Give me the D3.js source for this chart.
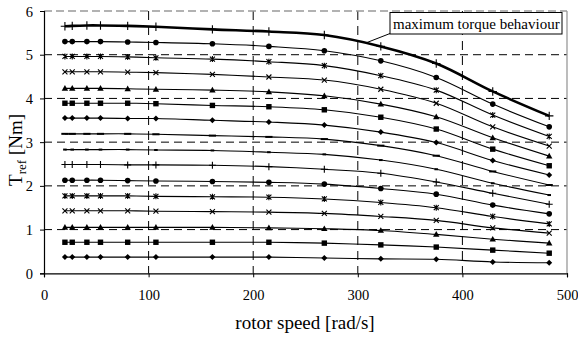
<!DOCTYPE html>
<html>
<head>
<meta charset="utf-8">
<script src="https://cdn.jsdelivr.net/npm/d3@7/dist/d3.min.js"></script>
<style>
  html, body { margin: 0; padding: 0; background: #fff; }
  svg { display: block; }
  text { font-family: "Liberation Serif", "Times New Roman", serif; fill: #000; }
</style>
</head>
<body>
<svg id="chart" width="578" height="338"></svg>
<script>
// ---- data ----
const speeds = [20, 27, 41, 54, 80, 107, 161, 215, 268, 322, 375, 429, 483];
const xTicks = [0, 100, 200, 300, 400, 500];
const yTicks = [0, 1, 2, 3, 4, 5, 6];
const markerTypes = ["diamond", "square", "triangle", "x", "star", "circle", "plus", "shortdash", "longdash",
                     "diamond", "square", "triangle", "x", "star", "circle", "plus"];
const s01 = [0.37,0.37,0.37,0.37,0.37,0.37,0.37,0.37,0.35,0.33,0.32,0.26,0.24];
const s02 = [0.71,0.71,0.71,0.71,0.71,0.71,0.71,0.71,0.69,0.65,0.60,0.53,0.46];
const s03 = [1.05,1.05,1.05,1.05,1.05,1.05,1.05,1.04,1.02,0.98,0.89,0.78,0.69];
const s04 = [1.43,1.43,1.43,1.43,1.43,1.42,1.41,1.40,1.37,1.30,1.21,1.04,0.92];
const s05 = [1.77,1.77,1.77,1.77,1.77,1.76,1.75,1.74,1.70,1.62,1.50,1.30,1.13];
const s06 = [2.13,2.13,2.13,2.13,2.12,2.11,2.10,2.08,2.04,1.94,1.81,1.56,1.36];
const s07 = [2.49,2.49,2.49,2.49,2.48,2.48,2.47,2.44,2.38,2.29,2.09,1.83,1.58];
const s08 = [2.83,2.83,2.83,2.83,2.83,2.82,2.81,2.77,2.72,2.59,2.38,2.06,1.79];
const s09 = [3.19,3.19,3.19,3.19,3.19,3.18,3.15,3.12,3.07,2.92,2.69,2.33,2.02];
const s10 = [3.55,3.55,3.55,3.55,3.54,3.54,3.50,3.46,3.39,3.23,2.99,2.58,2.25];
const s11 = [3.89,3.89,3.89,3.89,3.89,3.88,3.84,3.81,3.74,3.57,3.30,2.84,2.46];
const s12 = [4.23,4.23,4.23,4.23,4.22,4.21,4.19,4.15,4.06,3.87,3.58,3.10,2.68];
const s13 = [4.61,4.61,4.61,4.61,4.60,4.59,4.55,4.49,4.42,4.21,3.89,3.35,2.91];
const s14 = [4.96,4.96,4.96,4.96,4.95,4.93,4.90,4.84,4.75,4.52,4.19,3.62,3.13];
const s15 = [5.30,5.30,5.30,5.30,5.29,5.28,5.25,5.19,5.09,4.86,4.48,3.87,3.35];
const s16 = [5.65,5.66,5.67,5.67,5.66,5.64,5.58,5.53,5.45,5.19,4.80,4.16,3.60];
const seriesValues = [s01,s02,s03,s04,s05,s06,s07,s08,s09,s10,s11,s12,s13,s14,s15,s16];
const annotationText = "maximum torque behaviour";
const xTitle = "rotor speed [rad/s]";

// ---- layout ----
const svg = d3.select("#chart");
const L = 44, R = 567, T = 11, B = 273.3;
const x = d3.scaleLinear().domain([0, 500]).range([L, R]);
const y = d3.scaleLinear().domain([0, 6]).range([B, T]);

// gridlines
const grid = svg.append("g");
grid.selectAll("line.h").data(yTicks.filter(d => d > 0 && d < 6)).join("line")
  .attr("x1", L).attr("x2", R).attr("y1", d => y(d)).attr("y2", d => y(d))
  .attr("stroke", "#000").attr("stroke-width", 1).attr("stroke-dasharray", "8,5");
grid.selectAll("line.v").data(xTicks.filter(d => d > 0 && d < 500)).join("line")
  .attr("x1", d => x(d)).attr("x2", d => x(d)).attr("y1", T).attr("y2", B)
  .attr("stroke", "#000").attr("stroke-width", 1).attr("stroke-dasharray", "9,6");
// plot-area border (top dashed grey, right solid grey)
grid.append("line").attr("x1", L).attr("x2", R).attr("y1", y(6)).attr("y2", y(6))
  .attr("stroke", "#999").attr("stroke-width", 1.3).attr("stroke-dasharray", "8,4");
grid.append("line").attr("x1", R).attr("x2", R).attr("y1", T).attr("y2", B)
  .attr("stroke", "#999").attr("stroke-width", 1.3);

// lines
const line = d3.line().x(d => x(d[0])).y(d => y(d[1])).curve(d3.curveCatmullRom.alpha(0.5));
const series = seriesValues.map((vals, i) => ({ pts: speeds.map((s, j) => [s, vals[j]]), marker: markerTypes[i], thick: i === 15 }));
svg.append("g").selectAll("path").data(series).join("path")
  .attr("d", d => line(d.pts)).attr("fill", "none").attr("stroke", "#000")
  .attr("stroke-width", d => d.thick ? 2.6 : 1.1);

// markers
function marker(g, type, cx, cy, big) {
  const k = big ? 1.2 : 1;
  switch (type) {
    case "diamond": g.append("path").attr("d", `M${cx},${cy-3*k}L${cx+3*k},${cy}L${cx},${cy+3*k}L${cx-3*k},${cy}Z`).attr("fill", "#000"); break;
    case "square": g.append("rect").attr("x", cx-2.7).attr("y", cy-2.7).attr("width", 5.4).attr("height", 5.4).attr("fill", "#000"); break;
    case "triangle": g.append("path").attr("d", `M${cx},${cy-3.3}L${cx+3.2},${cy+2.4}L${cx-3.2},${cy+2.4}Z`).attr("fill", "#000"); break;
    case "x": g.append("path").attr("d", `M${cx-2.5},${cy-2.5}L${cx+2.5},${cy+2.5}M${cx+2.5},${cy-2.5}L${cx-2.5},${cy+2.5}`).attr("stroke", "#000").attr("stroke-width", 1.1); break;
    case "star": g.append("path").attr("d", `M${cx-2.5},${cy-2.5}L${cx+2.5},${cy+2.5}M${cx+2.5},${cy-2.5}L${cx-2.5},${cy+2.5}M${cx},${cy-3}L${cx},${cy+3}`).attr("stroke", "#000").attr("stroke-width", 1.1); break;
    case "circle": g.append("circle").attr("cx", cx).attr("cy", cy).attr("r", 2.8).attr("fill", "#000"); break;
    case "plus": g.append("path").attr("d", `M${cx-3.5*k},${cy}L${cx+3.5*k},${cy}M${cx},${cy-3.5*k}L${cx},${cy+3.5*k}`).attr("stroke", "#000").attr("stroke-width", 1.1); break;
    case "shortdash": g.append("path").attr("d", `M${cx-1.8},${cy}L${cx+1.8},${cy}`).attr("stroke", "#000").attr("stroke-width", 2); break;
    case "longdash": g.append("path").attr("d", `M${cx-3.6},${cy}L${cx+3.6},${cy}`).attr("stroke", "#000").attr("stroke-width", 2); break;
  }
}
const mg = svg.append("g");
series.forEach(s => s.pts.forEach(p => marker(mg, s.marker, x(p[0]), y(p[1]), s.thick)));

// axes
const xAxis = svg.append("g").attr("transform", `translate(0,${B})`)
  .call(d3.axisBottom(x).tickValues(xTicks).tickSize(4).tickFormat(d3.format("d")));
const yAxis = svg.append("g").attr("transform", `translate(${L},0)`)
  .call(d3.axisLeft(y).tickValues(yTicks).tickSize(4).tickFormat(d3.format("d")));
[xAxis, yAxis].forEach(a => {
  a.select(".domain").attr("stroke", "#000").attr("stroke-width", 1.2);
  a.selectAll(".tick line").attr("stroke", "#000").attr("stroke-width", 1);
  a.selectAll(".tick text").attr("font-family", "Liberation Serif, serif").attr("font-size", 14.5).attr("fill", "#000");
});
xAxis.selectAll(".tick text").attr("y", 16).attr("dy", "0.71em");
yAxis.selectAll(".tick text").attr("x", -11).attr("dy", "0.35em");

// axis titles
svg.append("text").attr("x", 305).attr("y", 329).attr("text-anchor", "middle")
  .attr("font-size", 19).text(xTitle);
const yt = svg.append("text").attr("transform", "translate(22,150) rotate(-90)")
  .attr("text-anchor", "middle").attr("font-size", 19);
yt.append("tspan").text("T");
yt.append("tspan").attr("font-size", 13).attr("dy", 4).text("ref");
yt.append("tspan").attr("dy", -4).text(" [Nm]");

// annotation
const ag = svg.append("g");
ag.append("line").attr("x1", 390).attr("y1", 33.5).attr("x2", 367).attr("y2", 42.5)
  .attr("stroke", "#000").attr("stroke-width", 1);
ag.append("rect").attr("x", 390).attr("y", 12.5).attr("width", 172).attr("height", 21.5)
  .attr("fill", "#fff").attr("stroke", "#000").attr("stroke-width", 1);
ag.append("text").attr("x", 393).attr("y", 28.5).attr("font-size", 15).text(annotationText);
</script>
</body>
</html>
